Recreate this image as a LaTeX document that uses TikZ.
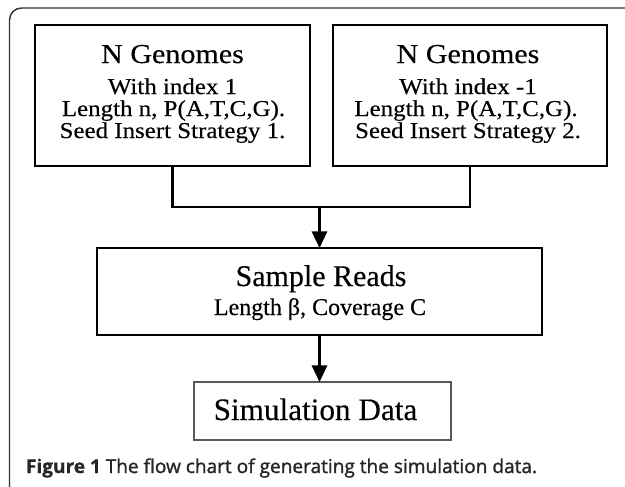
\documentclass[tikz,border=0pt]{standalone}
\usepackage{fontspec}
\setmainfont{Liberation Serif}[FakeBold=0.3]
\newfontfamily\wideserif{Liberation Serif}[FakeBold=0.3,FakeStretch=1.1]
\newfontfamily\capfont{Open Sans}[FakeBold=1.4]
\newfontfamily\capbold{Open Sans}[FakeBold=0.6]
\usetikzlibrary{arrows.meta}
\begin{document}
\begin{tikzpicture}[x=0.75pt,y=-0.75pt,
  box/.style={draw=black,line width=1.8pt,rectangle,inner sep=0pt,outer sep=0pt},
  lightbox/.style={draw=black!65,line width=1.2pt,rectangle,inner sep=0pt,outer sep=0pt},
  conn/.style={draw=black,line width=1.7pt},
  arr/.style={conn,-{Triangle[length=12.5pt,width=11.5pt]}},
  txt/.style={anchor=base,inner sep=0pt,outer sep=0pt},
  big/.style={txt,font=\wideserif\fontsize{20.5}{21}\selectfont},
  mid/.style={txt,font=\wideserif\fontsize{17}{17}\selectfont}]
\useasboundingbox (0,0) rectangle (625,486);
\begin{scope}
\clip (0,0) rectangle (625,486);
\draw[draw=black!80,line width=1.1pt,rounded corners=9] (9.5,8) rectangle (660,500);
\end{scope}
% boxes
\node[box,minimum width=206.25pt,minimum height=105.75pt] (b1) at (172.5,95.5) {};
\node[box,minimum width=205.5pt,minimum height=105.75pt] (b2) at (470,95.5) {};
\node[box,minimum width=333.75pt,minimum height=65.25pt] (b3) at (319.5,291.5) {};
\node[lightbox,minimum width=192.75pt,minimum height=43.5pt] (b4) at (322.5,411) {};
% texts box 1
\node[big] (t11) at (172.5,63) {N Genomes};
\node[mid] (t12) at (172.5,94) {With index 1};
\node[mid] (t13) at (173.5,116) {Length n, P(A,T,C,G).};
\node[mid] (t14) at (172.5,138) {Seed Insert Strategy 1.};
% texts box 2
\node[big] (t21) at (468,63) {N Genomes};
\node[mid] (t22) at (468,94) {With index -1};
\node[mid] (t23) at (466,116) {Length n, P(A,T,C,G).};
\node[mid] (t24) at (468,138) {Seed Insert Strategy 2.};
% box 3
\node[txt,font=\fontsize{22.5}{22}\selectfont] (t31) at (321,286) {Sample Reads};
\node[txt,font=\fontsize{18}{18}\selectfont] (t32) at (320,315) {Length β, Coverage C};
% box 4
\node[txt,font=\fontsize{23.4}{23}\selectfont] (t41) at (315.5,420) {Simulation Data};
% connectors
\coordinate (j) at (319.5,207);
\draw[conn] (b1.south) |- (j) -| (b2.south);
\draw[arr] (j) -- (b3.north);
\draw[arr] (b3.south) -- (b3.south |- b4.north);
% caption
\node[txt,anchor=base west,font=\fontsize{14.3}{15}\selectfont,text=black!85] (cap) at (26,473)
  {{\capbold\bfseries Figure 1} {\capfont The flow chart of generating the simulation data.}};
\end{tikzpicture}
\end{document}
